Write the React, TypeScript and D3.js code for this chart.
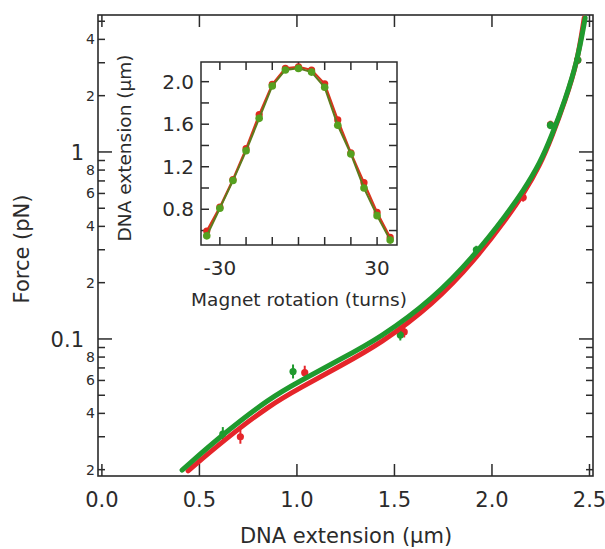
// App.tsx
import React, { useRef, useEffect } from 'react';
import * as d3 from 'd3';

// fitted force-extension curves
const greenFitX = [0.411, 0.621, 0.862, 1.016, 1.221, 1.426, 1.698, 1.913, 2.077, 2.160, 2.247, 2.308, 2.375, 2.437, 2.478];
const greenFitY = [0.0199, 0.0310, 0.0484, 0.0596, 0.0777, 0.1012, 0.1636, 0.2813, 0.4661, 0.6187, 0.8733, 1.233, 1.897, 3.03, 5.21];
const redFitX = [0.442, 0.621, 0.862, 1.016, 1.221, 1.426, 1.698, 1.913, 2.077, 2.160, 2.247, 2.308, 2.375, 2.437, 2.473];
const redFitY = [0.0197, 0.0285, 0.0444, 0.0547, 0.0717, 0.0940, 0.1529, 0.2645, 0.4436, 0.5925, 0.852, 1.210, 1.874, 2.991, 5.21];

// measured points with relative error
const redPtX = [0.71, 1.04, 1.55, 2.16, 2.30, 2.44];
const redPtY = [0.030, 0.066, 0.109, 0.57, 1.40, 3.1];
const greenPtX = [0.62, 0.98, 1.53, 1.92, 2.30, 2.44];
const greenPtY = [0.031, 0.067, 0.105, 0.30, 1.39, 3.1];
const ptErr = [0.09, 0.09, 0.07, 0.05, 0.05, 0.05];

// inset: extension vs magnet rotation
const turns = [-35, -30, -25, -20, -15, -10, -5, 0, 5, 10, 15, 20, 25, 30, 35];
const redExt = [0.595, 0.82, 1.08, 1.37, 1.69, 1.975, 2.125, 2.14, 2.11, 1.98, 1.64, 1.33, 1.05, 0.77, 0.535];
const greenExt = [0.55, 0.81, 1.07, 1.35, 1.655, 1.96, 2.11, 2.125, 2.09, 1.947, 1.59, 1.32, 1.0, 0.74, 0.51];

const xTicks = [0, 0.5, 1, 1.5, 2, 2.5];
const xTickLabels = ['0.0', '0.5', '1.0', '1.5', '2.0', '2.5'];
const yDecades = [0.1, 1];
const yDecadeLabels = ['0.1', '1'];
const yMinor = [0.02, 0.03, 0.04, 0.05, 0.06, 0.07, 0.08, 0.09, 0.2, 0.3, 0.4, 0.5, 0.6, 0.7, 0.8, 0.9, 2, 3, 4, 5];
const yMinorLabelled = [0.02, 0.04, 0.06, 0.08, 0.2, 0.4, 0.6, 0.8, 2, 4];
const yMinorLabels = ['2', '4', '6', '8', '2', '4', '6', '8', '2', '4'];

const insetXTicks = [-30, -20, -10, 0, 10, 20, 30];
const insetXLabelled = [-30, 30];
const insetXLabels = ['-30', '30'];
const insetYTicks = [0.6, 0.8, 1.0, 1.2, 1.4, 1.6, 1.8, 2.0];
const insetYLabelled = [0.8, 1.2, 1.6, 2.0];
const insetYLabels = ['0.8', '1.2', '1.6', '2.0'];

const RED = '#e5252a';
const GREEN = '#1f9a2e';
const INK = '#2b2b2b';
const FONT = 'DejaVu Sans, Verdana, sans-serif';

const App = () => {
    const chartRef = useRef(null);

    useEffect(() => {
        d3.select(chartRef.current).selectAll('*').remove();
        const svg = d3.select(chartRef.current);

        // main axes
        const x = d3.scaleLinear().domain([-0.02, 2.518]).range([98, 593]);
        const y = d3.scaleLog().domain([0.0185, 5.4]).range([476, 15]);

        const tick = (g, x1, y1, x2, y2) =>
            g.append('line').attr('x1', x1).attr('y1', y1).attr('x2', x2).attr('y2', y2)
                .attr('stroke', INK).attr('stroke-width', 1.5);

        const frame = svg.append('g');
        frame.append('rect')
            .attr('x', 98).attr('y', 15).attr('width', 495).attr('height', 461)
            .attr('fill', 'none').attr('stroke', INK).attr('stroke-width', 1.6);

        xTicks.forEach((v) => {
            tick(frame, x(v), 476, x(v), 464);
            tick(frame, x(v), 15, x(v), 27);
        });
        yDecades.forEach((v) => {
            tick(frame, 98, y(v), 112, y(v));
            tick(frame, 593, y(v), 579, y(v));
        });
        yMinor.forEach((v) => {
            tick(frame, 98, y(v), 105, y(v));
            tick(frame, 593, y(v), 586, y(v));
        });

        const labels = svg.append('g').attr('font-family', FONT).attr('fill', INK);
        xTicks.forEach((v, i) => {
            labels.append('text').attr('x', x(v)).attr('y', 507)
                .attr('text-anchor', 'middle').attr('font-size', 21).text(xTickLabels[i]);
        });
        yDecades.forEach((v, i) => {
            labels.append('text').attr('x', 84).attr('y', y(v)).attr('dy', '0.36em')
                .attr('text-anchor', 'end').attr('font-size', 21).text(yDecadeLabels[i]);
        });
        yMinorLabelled.forEach((v, i) => {
            labels.append('text').attr('x', 95).attr('y', y(v)).attr('dy', '0.36em')
                .attr('text-anchor', 'end').attr('font-size', 14).text(yMinorLabels[i]);
        });
        labels.append('text').attr('x', 346).attr('y', 543)
            .attr('text-anchor', 'middle').attr('font-size', 21).text('DNA extension (μm)');
        labels.append('text').attr('transform', 'translate(29,249) rotate(-90)')
            .attr('text-anchor', 'middle').attr('font-size', 21).text('Force (pN)');

        // data points with error bars
        const drawPoints = (xs, ys, color) => {
            const g = svg.append('g');
            xs.forEach((xv, i) => {
                const yv = ys[i];
                g.append('line')
                    .attr('x1', x(xv)).attr('x2', x(xv))
                    .attr('y1', y(yv * (1 + ptErr[i]))).attr('y2', y(yv / (1 + ptErr[i])))
                    .attr('stroke', color).attr('stroke-width', 2);
                g.append('circle').attr('cx', x(xv)).attr('cy', y(yv)).attr('r', 3.6).attr('fill', color);
            });
        };
        drawPoints(redPtX, redPtY, RED);
        drawPoints(greenPtX, greenPtY, GREEN);

        // fitted curves, smoothed through the read-off points
        const fit = d3.line().x((d) => x(d[0])).y((d) => y(d[1])).curve(d3.curveBasis);
        svg.append('path')
            .attr('d', fit(redFitX.map((v, i) => [v, redFitY[i]])))
            .attr('fill', 'none').attr('stroke', RED).attr('stroke-width', 5).attr('stroke-linecap', 'round');
        svg.append('path')
            .attr('d', fit(greenFitX.map((v, i) => [v, greenFitY[i]])))
            .attr('fill', 'none').attr('stroke', GREEN).attr('stroke-width', 5).attr('stroke-linecap', 'round');

        // inset
        const ix = d3.scaleLinear().domain([-37.2, 37.6]).range([201, 397]);
        const iy = d3.scaleLinear().domain([0.464, 2.185]).range([245, 62]);
        const inset = svg.append('g');
        inset.append('rect')
            .attr('x', 201).attr('y', 62).attr('width', 196).attr('height', 183)
            .attr('fill', 'white').attr('stroke', INK).attr('stroke-width', 1.5);
        insetXTicks.forEach((v) => {
            tick(inset, ix(v), 245, ix(v), 237);
            tick(inset, ix(v), 62, ix(v), 70);
        });
        insetYTicks.forEach((v) => {
            tick(inset, 201, iy(v), 209, iy(v));
            tick(inset, 397, iy(v), 389, iy(v));
        });

        const iline = d3.line().x((d) => ix(d[0])).y((d) => iy(d[1]));
        inset.append('path')
            .attr('d', iline(turns.map((t, i) => [t, redExt[i]])))
            .attr('fill', 'none').attr('stroke', '#d8361e').attr('stroke-width', 2.2);
        inset.selectAll('circle.r').data(turns).enter().append('circle')
            .attr('class', 'r').attr('cx', (t) => ix(t)).attr('cy', (t, i) => iy(redExt[i]))
            .attr('r', 3.6).attr('fill', '#e02a1e');
        inset.append('path')
            .attr('d', iline(turns.map((t, i) => [t, greenExt[i]])))
            .attr('fill', 'none').attr('stroke', '#5e7a1c').attr('stroke-width', 2);
        inset.selectAll('circle.g').data(turns).enter().append('circle')
            .attr('class', 'g').attr('cx', (t) => ix(t)).attr('cy', (t, i) => iy(greenExt[i]))
            .attr('r', 3.8).attr('fill', '#55a01f');

        const ilabels = svg.append('g').attr('font-family', FONT).attr('fill', INK);
        insetXLabelled.forEach((v, i) => {
            ilabels.append('text').attr('x', ix(v)).attr('y', 275)
                .attr('text-anchor', 'middle').attr('font-size', 20).text(insetXLabels[i]);
        });
        insetYLabelled.forEach((v, i) => {
            ilabels.append('text').attr('x', 194).attr('y', iy(v)).attr('dy', '0.36em')
                .attr('text-anchor', 'end').attr('font-size', 20).text(insetYLabels[i]);
        });
        ilabels.append('text').attr('x', 299).attr('y', 306)
            .attr('text-anchor', 'middle').attr('font-size', 18.5).text('Magnet rotation (turns)');
        ilabels.append('text').attr('transform', 'translate(131,148) rotate(-90)')
            .attr('text-anchor', 'middle').attr('font-size', 18.5).text('DNA extension (μm)');
    }, []);

    return (
        <svg
            ref={chartRef}
            width={605}
            height={549}
            style={{ position: 'absolute', left: 0, top: 0, background: 'white' }}
        ></svg>
    );
};

export default App;
